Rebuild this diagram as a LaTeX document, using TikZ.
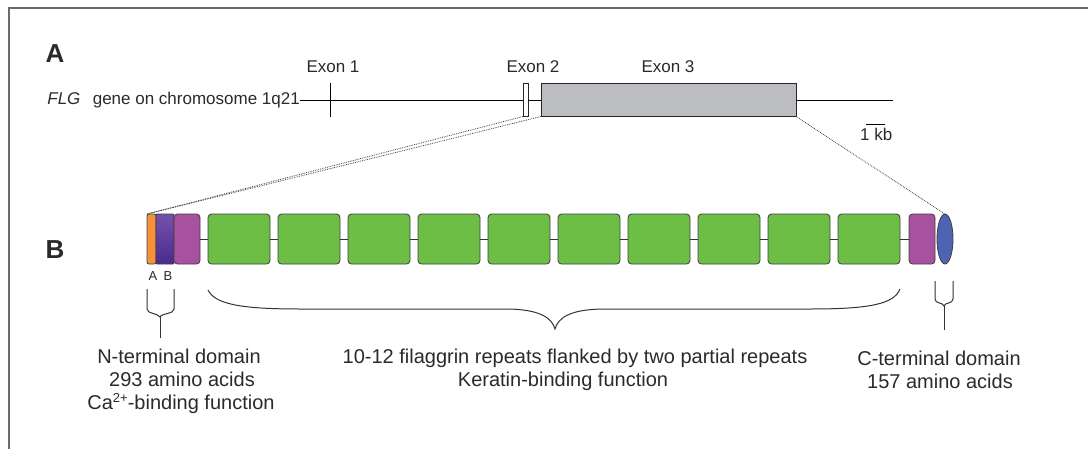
\documentclass[tikz,border=0pt]{standalone}
\usepackage{fontspec}
\setmainfont{Liberation Sans}
\usetikzlibrary{shapes.geometric}
\definecolor{exgray}{HTML}{BCBDC1}
\definecolor{dorange}{HTML}{F5913A}
\definecolor{dpurpT}{HTML}{7452AA}
\definecolor{dpurpB}{HTML}{4A2A8E}
\definecolor{dmag}{HTML}{A8519F}
\definecolor{dgreen}{HTML}{6DBE45}
\definecolor{dblue}{HTML}{4E63B1}
\definecolor{frame}{HTML}{6A6A6A}
\definecolor{txt}{HTML}{2A2A2A}
\begin{document}
\begin{tikzpicture}[x=1pt,y=-1pt,
  dom/.style={draw=black!75, line width=0.8pt, rounded corners=3.5pt, minimum height=50pt, inner sep=0pt, outer sep=0pt},
  greenbox/.style={dom, fill=dgreen, minimum width=62pt},
  lbl/.style={inner sep=0pt, anchor=base, text=txt, font=\fontsize{20}{23}\selectfont},
  toplbl/.style={inner sep=0pt, anchor=base, text=txt, font=\fontsize{17}{20}\selectfont},
  panel/.style={inner sep=0pt, anchor=base, text=txt, font=\fontsize{26}{28}\selectfont\bfseries},
  zoomline/.style={draw=black!75, densely dotted, line width=0.8pt},
  fork/.style={draw=black!80, line width=1pt}
]
\useasboundingbox (0,0) rectangle (1088,448);
% frame
\draw[frame, line width=2pt] (9,449) -- (9,8) -- (1089,8);

% panel labels
\node[panel] (pA) at (55,62) {A};
\node[panel] (pB) at (55,258) {B};

% gene
\node[toplbl, anchor=base east] (flg) at (300,104) {\textit{FLG}\hspace{0.45em} gene on chromosome 1q21};
\coordinate (gend) at (893,100);
\node[draw=black!85, line width=0.8pt, minimum width=5pt, minimum height=33pt, inner sep=0pt, outer sep=0pt] (ex2) at (525.5,100) {};
\node[draw=black!85, line width=0.8pt, fill=exgray, minimum width=255pt, minimum height=33pt, inner sep=0pt, outer sep=0pt] (ex3) at (668.5,100) {};
\coordinate (ex1t) at (330,83);
\coordinate (ex1b) at (330,117);
\draw[line width=0.8pt] (flg.base east |- 0,100) -- (ex2.west);
\draw[line width=0.8pt] (ex2.east) -- (ex3.west);
\draw[line width=0.8pt] (ex3.east) -- (gend);
\draw[line width=0.8pt] (ex1t) -- (ex1b);
\node[toplbl] (l1) at (333,72) {Exon 1};
\node[toplbl] (l2) at (533,72) {Exon 2};
\node[toplbl] (l3) at (668,72) {Exon 3};
\node[toplbl, anchor=base west] (kb) at (860,140) {1 kb};
\coordinate (kbL) at (866,124);
\coordinate (kbR) at (885,124);
\draw[line width=0.8pt] (kbL) -- (kbR);

% protein
\node[dom, fill=dorange, minimum width=9pt, rounded corners=2pt] (nA) at (151.5,239) {};
\node[dom, top color=dpurpT, bottom color=dpurpB, minimum width=18pt, rounded corners=1pt] (nB) at (165,239) {};
\node[dom, fill=dmag, minimum width=26pt] (nP) at (187,239) {};
\foreach \i in {1,...,10} {
  \node[greenbox] (g\i) at ({239+70*(\i-1)},239) {};
}
\node[dom, fill=dmag, minimum width=26pt] (cP) at (922,239) {};
\node[ellipse, draw=black!75, line width=0.8pt, fill=dblue, minimum width=16pt, minimum height=50pt, inner sep=0pt, outer sep=0pt] (cE) at (945,239) {};
\draw[line width=0.8pt, black!80] (nP.east) -- (g1.west);
\foreach \i [evaluate=\i as \j using int(\i+1)] in {1,...,9} {
  \draw[line width=0.8pt, black!80] (g\i.east) -- (g\j.west);
}
\draw[line width=0.8pt, black!80] (g10.east) -- (cP.west);

\node[inner sep=0pt, anchor=base, text=txt, font=\fontsize{13}{15}\selectfont] (sA) at (153,280) {A};
\node[inner sep=0pt, anchor=base, text=txt, font=\fontsize{13}{15}\selectfont] (sB) at (168,280) {B};

% zoom lines
\draw[zoomline] (ex2.south west) -- (nA.north west);
\draw[zoomline] (ex3.south west) -- (nA.north west);
\draw[zoomline] (ex3.south east) -- (cE.north);

% forks / braces
\draw[fork] (147,289) -- (147,309) .. controls (147,314) and (158,313) .. (160,317) .. controls (162,313) and (174,314) .. (174,309) -- (174,289);
\draw[fork] (160,317) -- (160,338);
\draw[fork] (935,281) -- (935,299) .. controls (935,304) and (943,302) .. (944,306) .. controls (945,302) and (953,304) .. (953,299) -- (953,281);
\draw[fork] (944,306) -- (944,330);
\draw[fork] (208,290) .. controls (215,304) and (240,309) .. (300,309) -- (505,309) .. controls (540,309) and (552,318) .. (555,329) .. controls (558,318) and (570,309) .. (605,309) -- (810,309) .. controls (870,309) and (894,304) .. (900,289);

% texts
\node[lbl] (n1) at (179,363) {N-terminal domain};
\node[lbl] (n2) at (182,386) {293 amino acids};
\node[lbl] (n3) at (181,409) {Ca\raisebox{0.35em}{\fontsize{13}{14}\selectfont 2+}-binding function};
\node[lbl] (m1) at (575,363) {10-12 filaggrin repeats flanked by two partial repeats};
\node[lbl] (m2) at (563,386) {Keratin-binding function};
\node[lbl] (c1) at (939,365) {C-terminal domain};
\node[lbl] (c2) at (940,388) {157 amino acids};
\end{tikzpicture}
\end{document}
